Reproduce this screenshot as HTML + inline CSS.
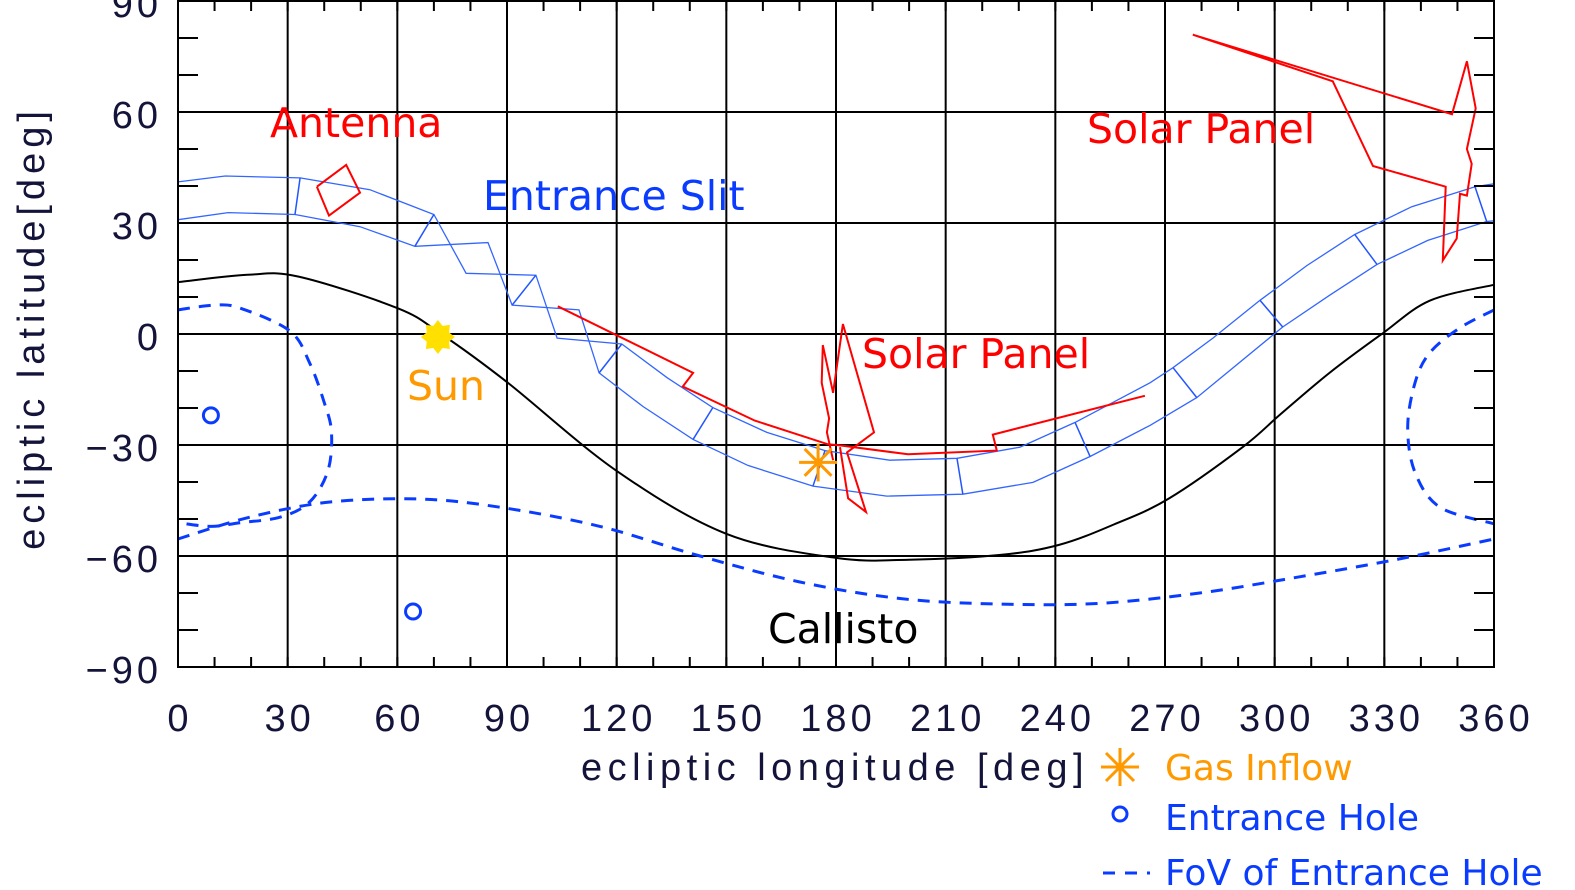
<!DOCTYPE html>
<html><head><meta charset="utf-8"><style>
html,body{margin:0;padding:0;background:#fff;overflow:hidden;width:1575px;height:890px}
#wrap{position:relative;width:1575px;height:890px;overflow:hidden}
svg{display:block;position:absolute;left:0;top:0;overflow:hidden}
.tk{font-family:"Liberation Sans",sans-serif;font-size:38px;fill:#14143a;letter-spacing:4px}
.lab{font-family:"DejaVu Sans","Liberation Sans",sans-serif;font-size:41px}
.leg{font-family:"DejaVu Sans","Liberation Sans",sans-serif;font-size:36px}
</style></head><body><div id="wrap">
<svg width="1575" height="890" viewBox="0 0 1575 890" xmlns="http://www.w3.org/2000/svg">
<g id="grid"></g>
<g id="marks"></g>
<g id="axes"></g>
<text class="lab" x="270" y="137" fill="#ff0000">Antenna</text>
<text class="lab" x="483" y="210" fill="#0a3cff">Entrance Slit</text>
<text class="lab" x="1087" y="143" fill="#ff0000">Solar Panel</text>
<text class="lab" x="862" y="368" fill="#ff0000">Solar Panel</text>
<text class="lab" x="407" y="400" fill="#ff9900">Sun</text>
<text class="lab" x="768" y="643" fill="#000">Callisto</text>
<text class="tk" x="835" y="780" text-anchor="middle" style="letter-spacing:5.5px">ecliptic longitude [deg]</text>
<text class="tk" transform="translate(44,328) rotate(-90)" text-anchor="middle" style="letter-spacing:5px">ecliptic latitude[deg]</text>
<g>
<g stroke="#ff9900" stroke-width="3">
<line x1="1101" y1="767" x2="1139" y2="767"/><line x1="1120" y1="748" x2="1120" y2="786"/><line x1="1106" y1="753" x2="1134" y2="781"/><line x1="1134" y1="753" x2="1106" y2="781"/></g>
<text class="leg" x="1165" y="780" fill="#ff9900">Gas Inflow</text>
<circle cx="1120" cy="814" r="7" fill="none" stroke="#0a3cff" stroke-width="3"/>
<text class="leg" x="1165" y="830" fill="#0a3cff">Entrance Hole</text>
<line x1="1103" y1="873" x2="1150" y2="873" stroke="#0a3cff" stroke-width="3" stroke-dasharray="12,10"/>
<text class="leg" x="1165" y="885" fill="#0a3cff">FoV of Entrance Hole</text>
</g>
</svg></div>
<script>
const xTicks=[0,30,60,90,120,150,180,210,240,270,300,330,360];
const yTicks=[90,60,30,0,-30,-60,-90];
const yTickLabels=["90","60","30","0","\u221230","\u221260","\u221290"];
const callistoLon=[0,19,33,60,72,90,120,150,180,200,225,241,256,271,291.3,301.7,315,329.3,342.4,360];
const callistoLat=[14,16,15.5,7,0,-13,-37,-54,-60.5,-61,-59.7,-57,-51.5,-44.5,-30.5,-21.6,-10.5,0,9,13.3];
const slitUpLon=[0,12.9,33.4,52.5,70,78.8,97.9,103.7,121.4,133.8,146.3,161.1,177,194.7,213.1,230.3,245.4,265.9,272.2,283.1,296,308.8,321.9,337.5,354.8,360];
const slitUpLat=[41.1,42.7,42.2,39,32.3,16.4,15.9,-1.1,-2.7,-11.8,-19.9,-26.6,-31.5,-34.1,-33.6,-30.6,-23.9,-13.2,-9.1,-1.1,9.1,18.5,26.9,34.4,39.8,40.6];
const slitLoLon=[0,13.7,32,49.8,64.8,84.8,91.4,109.7,115.2,127.2,140.9,155.9,173.7,193.9,214.7,233.9,249.5,265.9,278.7,302.2,315.1,328,341.9,358,360];
const slitLoLat=[30.9,32.8,32.3,29,23.7,24.7,7.8,6.5,-10.5,-19.6,-28.5,-35.5,-41.1,-43.8,-43.3,-40.1,-33.1,-24.7,-17.2,1.9,10.5,18.8,25.3,30.4,30.6];
const crossUp=[2,4,6,8,10,12,14,16,18,20,22,24];
const crossLo=[2,4,6,8,10,12,14,16,18,19,21,23];
const fovLeftLon=[0,10,17,30.6,36,40,42,41,36,28,17,9,0];
const fovLeftLat=[6.5,7.8,7,0.8,-7.8,-18.5,-26.6,-37,-45.4,-49.5,-51,-52,-51];
const fovLowLon=[0,19.7,41.6,66,88,115.4,142.8,170,197.5,225,252,279.5,307,334,360];
const fovLowLat=[-55.4,-49.5,-45.4,-44.6,-46.8,-52,-60,-67,-71.5,-73,-72.8,-70,-65.6,-60.8,-55.4];
const fovRightLon=[360,350.6,342.4,338.4,336.4,338.4,345.2,360];
const fovRightLat=[6.5,1.6,-5.1,-13.2,-25.3,-37.4,-46.8,-51.3];
const antennaLon=[38,46,49.8,41.3,38];
const antennaLat=[39.8,45.7,38.2,32,39.8];
const panelMidLon=[103.9,140.9,138.1,157.8,177.8,181.1,199.7,224,222.9,264.5];
const panelMidLat=[7.5,-10.5,-14.2,-23.4,-29.8,-30.1,-32.5,-31.5,-27.2,-16.7];
const spikeLon=[179.2,177.5,178.1,176.1,176.4,179.2,181.9,190.4,183,188.2,183.3,181.1];
const spikeLat=[-34.1,-26.6,-22.8,-13.2,-3,-15.9,2.7,-26.6,-32,-48.1,-44.4,-30.6];
const panelRLon=[277.6,315.9,326.9,346.8,346,349.8,350.7,352.6,353.9,352.6,355,352.6,348.5,277.6];
const panelRLat=[80.9,68.3,45.4,39.8,19.9,25.8,37.9,37.4,46,50,61,73.7,59.4,80.9];
const holeLon=[9,64.3];
const holeLat=[-22,-75];
const sunLon=71.1, sunLat=-0.8;
const gasLon=175.1, gasLat=-34.7;

const X0=178,X1=1494,Y0=1,Y1=667;
const sx=l=>X0+l*(X1-X0)/360;
const sy=b=>Y0+(90-b)*(Y1-Y0)/180;
const NS="http://www.w3.org/2000/svg";
function mk(tag,attrs,parent){const e=document.createElementNS(NS,tag);for(const k in attrs)e.setAttribute(k,attrs[k]);parent.appendChild(e);return e;}
const grid=document.getElementById('grid'),marks=document.getElementById('marks'),axes=document.getElementById('axes');
xTicks.forEach(t=>{if(t>0&&t<360){const l=mk('line',{x1:sx(t),x2:sx(t),y1:Y0,y2:Y1,stroke:'#000',"stroke-width":2},grid);

}});
yTicks.forEach(t=>{if(t>-90&&t<90){const l=mk('line',{x1:X0,x2:X1,y1:sy(t),y2:sy(t),stroke:'#000',"stroke-width":2},grid);

}});
function pl(lons,lats,attrs,name){const pts=lons.map((l,i)=>sx(l).toFixed(1)+','+sy(lats[i]).toFixed(1)).join(' ');const e=mk('polyline',Object.assign({points:pts,fill:'none'},attrs),marks);

return e;}
function smooth(lons,lats,attrs,name){const P=lons.map((l,i)=>[sx(l),sy(lats[i])]);let d='M'+P[0][0].toFixed(1)+','+P[0][1].toFixed(1);
for(let i=0;i<P.length-1;i++){const p0=P[Math.max(0,i-1)],p1=P[i],p2=P[i+1],p3=P[Math.min(P.length-1,i+2)];
const c1=[p1[0]+(p2[0]-p0[0])/6,p1[1]+(p2[1]-p0[1])/6],c2=[p2[0]-(p3[0]-p1[0])/6,p2[1]-(p3[1]-p1[1])/6];
d+=' C'+c1.map(v=>v.toFixed(1)).join(',')+' '+c2.map(v=>v.toFixed(1)).join(',')+' '+p2.map(v=>v.toFixed(1)).join(',');}
const e=mk('path',Object.assign({d:d,fill:'none'},attrs),marks);

return e;}
smooth(callistoLon,callistoLat,{stroke:'#000',"stroke-width":2},'callisto-path');
pl(slitUpLon,slitUpLat,{stroke:'#3366ff',"stroke-width":1.3},'entrance-slit-upper-edge');
pl(slitLoLon,slitLoLat,{stroke:'#3366ff',"stroke-width":1.3},'entrance-slit-lower-edge');
crossUp.forEach((u,i)=>{const lo=crossLo[i];const e=mk('line',{x1:sx(slitUpLon[u]),y1:sy(slitUpLat[u]),x2:sx(slitLoLon[lo]),y2:sy(slitLoLat[lo]),stroke:'#2255ff',"stroke-width":1.5},marks);

});
const fovA={stroke:'#0a3cff',"stroke-width":3,"stroke-dasharray":"12,9"};
smooth(fovLeftLon,fovLeftLat,fovA,'fov-left-curve');
smooth(fovLowLon,fovLowLat,fovA,'fov-lower-curve');
smooth(fovRightLon,fovRightLat,fovA,'fov-right-curve');
const red={stroke:'#ff0000',"stroke-width":2};
pl(antennaLon,antennaLat,red,'antenna-outline');
pl(panelMidLon,panelMidLat,red,'solar-panel-middle-outline');
pl(spikeLon,spikeLat,red,'solar-panel-middle-spike');
pl(panelRLon,panelRLat,red,'solar-panel-right-outline');
holeLon.forEach((l,i)=>{const c=mk('circle',{cx:sx(l),cy:sy(holeLat[i]),r:7.5,fill:'none',stroke:'#0a3cff',"stroke-width":3},marks);

});
{const cx=sx(sunLon),cy=sy(sunLat);let p=[];for(let k=0;k<16;k++){const r=k%2?12:17;const a=k*Math.PI/8-Math.PI/2;p.push((cx+r*Math.cos(a)).toFixed(1)+','+(cy+r*Math.sin(a)).toFixed(1));}
const s=mk('polygon',{points:p.join(' '),fill:'#ffe000'},marks);

}
{const cx=sx(gasLon),cy=sy(gasLat);const g=mk('g',{stroke:'#ff9900',"stroke-width":3},marks);


[[0,1],[1,0],[0.707,0.707],[0.707,-0.707]].forEach(d=>mk('line',{x1:cx-d[0]*19,y1:cy-d[1]*19,x2:cx+d[0]*19,y2:cy+d[1]*19},g));}
const fr=mk('rect',{x:X0,y:Y0,width:X1-X0,height:Y1-Y0,fill:'none',stroke:'#000',"stroke-width":2},axes);


for(let t=0;t<=360;t+=10){const x=sx(t);mk('line',{x1:x,x2:x,y1:Y1,y2:Y1-10,stroke:'#000',"stroke-width":2},axes);mk('line',{x1:x,x2:x,y1:Y0,y2:Y0+10,stroke:'#000',"stroke-width":2},axes);}
for(let t=-90;t<=90;t+=10){const y=sy(t);mk('line',{x1:X0,x2:X0+20,y1:y,y2:y,stroke:'#000',"stroke-width":2},axes);mk('line',{x1:X1,x2:X1-20,y1:y,y2:y,stroke:'#000',"stroke-width":2},axes);}
xTicks.forEach(t=>{const e=mk('text',{x:sx(t)+2,y:731,"text-anchor":"middle","class":"tk"},axes);e.textContent=String(t);

});
yTicks.forEach((t,i)=>{const e=mk('text',{x:162,y:sy(t)+16,"text-anchor":"end","class":"tk"},axes);e.textContent=yTickLabels[i];

});
</script>
</body></html>
